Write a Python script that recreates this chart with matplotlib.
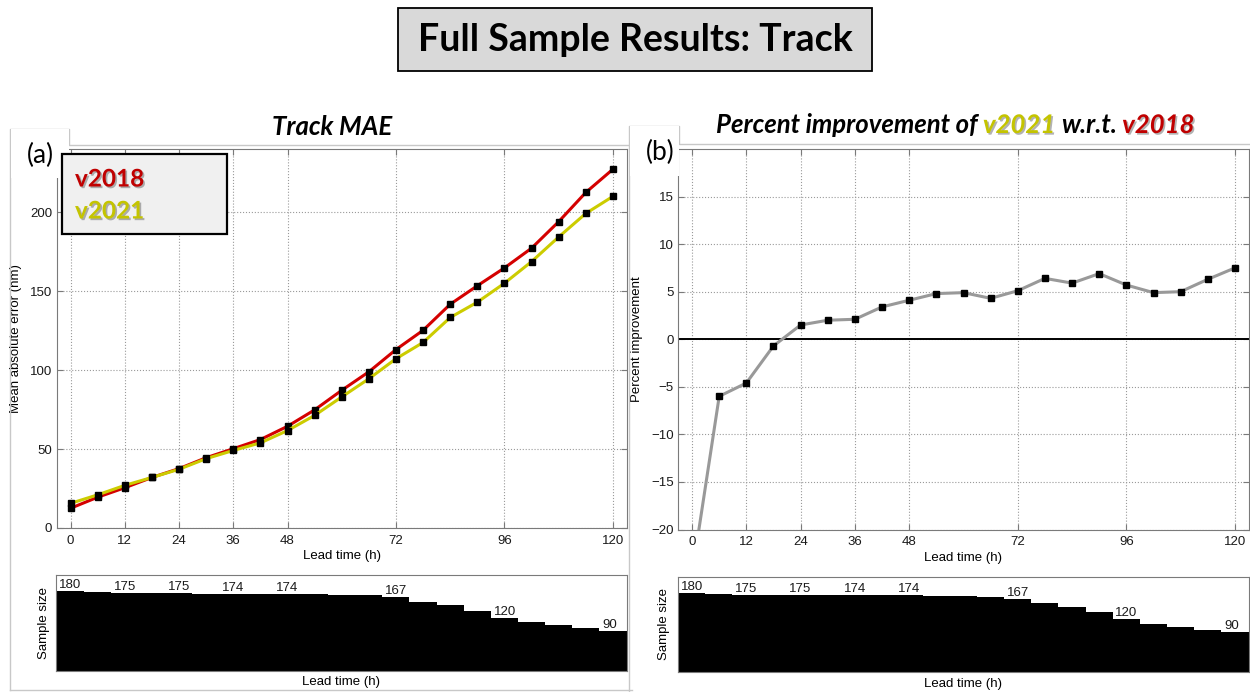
import matplotlib
matplotlib.use('Agg')
import matplotlib.pyplot as plt
import matplotlib.patheffects as pe
from matplotlib.patches import Rectangle
from matplotlib.lines import Line2D
import numpy as np

plt.rcParams['font.family'] = ['Liberation Sans', 'DejaVu Sans']

# data
lead = np.arange(0, 121, 6)
mae_v2018 = [12.5, 19.5, 25.5, 32.0, 37.6, 44.5, 50.2, 56.0, 64.4, 74.8, 87.2,
             98.9, 113.0, 125.2, 141.7, 153.4, 164.7, 177.2, 194.0, 212.5, 227.2]
mae_v2021 = [15.6, 21.0, 27.0, 32.0, 37.2, 43.9, 49.1, 53.9, 61.7, 71.3, 83.0,
             94.5, 107.2, 117.5, 133.3, 143.0, 155.0, 168.7, 184.3, 199.2, 210.0]
pct_impr = [-24.7, -6.0, -4.6, -0.7, 1.5, 2.0, 2.1, 3.4, 4.1, 4.8, 4.9,
            4.3, 5.1, 6.4, 5.9, 6.9, 5.7, 4.9, 5.0, 6.3, 7.5]
sample_size = [180, 177, 175, 175, 175, 174, 174, 174, 174, 173, 172,
               170, 167, 156, 148, 136, 120, 110, 103, 96, 90]
label_idx = [0, 2, 4, 6, 8, 12, 16, 20]
xticks = [0, 12, 24, 36, 48, 72, 96, 120]

W, H = 1250, 692
red_line = '#d40000'
yel_line = '#cccc00'
red_txt = '#c00000'
yel_txt = '#c4c400'
spine_c = '#7a7a7a'
title_font = 'Lato'

fig = plt.figure(figsize=(W / 100, H / 100), dpi=100)


def rect(x0, y0, x1, y1):
    # pixel box (top-left origin) -> figure fraction
    return [x0 / W, 1 - y1 / H, (x1 - x0) / W, (y1 - y0) / H]


def fx(x):
    return x / W


def fy(y):
    return 1 - y / H


def style_axes(ax):
    for s in ax.spines.values():
        s.set_color(spine_c)
        s.set_linewidth(0.8)
    ax.tick_params(direction='in', top=True, right=True, length=4,
                   color=spine_c, labelsize=9.5, labelcolor='#1a1a1a', width=0.8)
    ax.tick_params(axis='x', pad=5)


# ---- panel frames (screenshot borders)
frame_c = '#c8c8c8'
fig.add_artist(Line2D([fx(10), fx(10), fx(69), fx(69), fx(628)],
                      [fy(690), fy(129), fy(129), fy(145), fy(145)],
                      color=frame_c, lw=1))
fig.add_artist(Line2D([fx(10), fx(632)], [fy(690), fy(690)], color=frame_c, lw=1))
fig.add_artist(Line2D([fx(629), fx(629), fx(679), fx(679), fx(1250)],
                      [fy(692), fy(126), fy(126), fy(144), fy(144)],
                      color=frame_c, lw=1))

# ---- (a) Track MAE
ax1 = fig.add_axes(rect(57, 149, 626.5, 528))
ax1.plot(lead, mae_v2018, color=red_line, lw=2.2, marker='s', ms=4.3,
         mfc='k', mec='k', zorder=3)
ax1.plot(lead, mae_v2021, color=yel_line, lw=2.2, marker='s', ms=4.3,
         mfc='k', mec='k', zorder=3)
ax1.set_xlim(-3, 123)
ax1.set_ylim(0, 240)
ax1.set_xticks(xticks)
ax1.set_yticks([0, 50, 100, 150, 200])
ax1.grid(True, ls=':', color='#9a9a9a', lw=0.8)
style_axes(ax1)
ax1.set_xlabel('Lead time (h)', fontsize=9.5)
ax1.xaxis.set_label_coords(0.5, -0.057)
ax1.set_ylabel('Mean absolute error (nm)', fontsize=9.5)
ax1.yaxis.set_label_coords(-0.062, 0.5)

# ---- (b) percent improvement
ax2 = fig.add_axes(rect(678.5, 149, 1248.5, 529.5))
ax2.axhline(0, color='k', lw=1.4, zorder=2)
ax2.plot(lead, pct_impr, color='#999999', lw=2.2, marker='s', ms=4.3,
         mfc='k', mec='k', zorder=3)
ax2.set_xlim(-3, 123)
ax2.set_ylim(-20, 20)
ax2.set_xticks(xticks)
ax2.set_yticks(np.arange(-20, 16, 5))
ax2.grid(True, ls=':', color='#9a9a9a', lw=0.8)
style_axes(ax2)
ax2.set_xlabel('Lead time (h)', fontsize=9.5)
ax2.xaxis.set_label_coords(0.5, -0.06)
ax2.set_ylabel('Percent improvement', fontsize=9.5)
ax2.yaxis.set_label_coords(-0.062, 0.5)

# ---- sample size strips
edges = np.arange(len(sample_size) + 1)
for box, lx, ly in [((56.5, 575, 626.5, 671), -0.012, -0.055),
                    ((678, 577, 1248.5, 672), -0.014, -0.06)]:
    axs = fig.add_axes(rect(*box))
    axs.stairs(sample_size, edges, fill=True, color='k', baseline=0)
    for i in label_idx:
        axs.text(i + 0.1, sample_size[i], str(sample_size[i]), fontsize=9.5,
                 ha='left', va='bottom', color='#1a1a1a')
    axs.set_xlim(0, len(sample_size))
    axs.set_ylim(0, 216)
    axs.set_xticks([])
    axs.set_yticks([])
    for s in axs.spines.values():
        s.set_color(spine_c)
        s.set_linewidth(0.8)
    axs.set_xlabel('Lead time (h)', fontsize=9.5)
    axs.xaxis.set_label_coords(0.5, ly)
    axs.set_ylabel('Sample size', fontsize=9.5)
    axs.yaxis.set_label_coords(lx, 0.5)

# ---- tabs with panel letters (cover axes corners)
fig.add_artist(Rectangle((fx(10.5), fy(178)), (69 - 10.5) / W, 49 / H,
                         transform=fig.transFigure, fc='white', ec='none', zorder=2))
fig.add_artist(Rectangle((fx(629.5), fy(176)), (679 - 629.5) / W, 50 / H,
                         transform=fig.transFigure, fc='white', ec='none', zorder=2))
fig.text(fx(40), fy(155), '(a)', fontsize=19, family=title_font,
         ha='center', va='center', zorder=3)
fig.text(fx(660), fy(152), '(b)', fontsize=19, family=title_font,
         ha='center', va='center', zorder=3)

# ---- legend box in (a)
fig.add_artist(Rectangle((fx(62), fy(234)), (227 - 62) / W, 80 / H,
                         transform=fig.transFigure, fc='#f0f0f0', ec='k',
                         lw=1.6, zorder=4))
shadow = [pe.withSimplePatchShadow(offset=(1.2, -1.2), shadow_rgbFace='#555555',
                                   alpha=0.45)]
fig.text(fx(75), fy(179), 'v2018', fontsize=17.5, weight='bold', family=title_font,
         color=red_txt, va='center', zorder=5, path_effects=shadow)
fig.text(fx(75), fy(211), 'v2021', fontsize=17.5, weight='bold', family=title_font,
         color=yel_txt, va='center', zorder=5, path_effects=shadow)

# ---- main title box
fig.add_artist(Rectangle((fx(398), fy(71)), (872 - 398) / W, 63 / H,
                         transform=fig.transFigure, fc='#d9d9d9', ec='k',
                         lw=1.3, zorder=2))
fig.text(fx(635), fy(40), 'Full Sample Results: Track', fontsize=27,
         weight='bold', family=title_font, ha='center', va='center', zorder=3)

# ---- subplot titles
tkw = dict(fontsize=18.5, weight='bold', style='italic', family=title_font)
fig.text(fx(332), fy(127), 'Track MAE', ha='center', va='center', **tkw)

renderer = fig.canvas.get_renderer()
pieces = [('Percent improvement of', 'k', False), ('v2021', yel_txt, True),
          ('w.r.t.', 'k', False), ('v2018', red_txt, True)]
probe = fig.text(0, 0, 'xx', **tkw)
w_xx = probe.get_window_extent(renderer).width
probe.set_text('x x')
gap = probe.get_window_extent(renderer).width - w_xx
probe.remove()

# measure total width first so the line can be centred
widths = []
for s, c, sh in pieces:
    t = fig.text(0, 0, s, **tkw)
    widths.append(t.get_window_extent(renderer).width)
    t.remove()
total = sum(widths) + gap * (len(pieces) - 1)
x = 955 - total / 2
base = fy(133)
for (s, c, sh), w in zip(pieces, widths):
    fig.text(fx(x), base, s, color=c, va='baseline',
             path_effects=shadow if sh else None, **tkw)
    x += w + gap

fig.savefig('out.png', dpi=100)
